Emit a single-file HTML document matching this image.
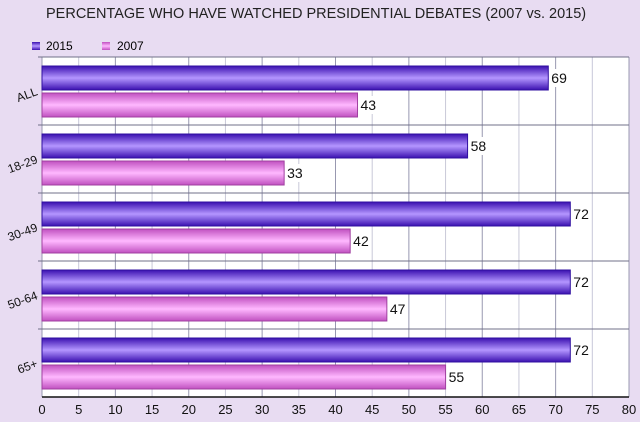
<!DOCTYPE html>
<html><head><meta charset="utf-8"><style>
body{margin:0;background:#e8dcf2;}
svg{display:block;font-family:"Liberation Sans",sans-serif;}
</style></head><body>
<svg id="c" width="640" height="422">
<defs>
<linearGradient id="g15" x1="0" y1="0" x2="0" y2="1">
<stop offset="0" stop-color="#3a10b0"/><stop offset="0.5" stop-color="#b496ff"/><stop offset="1" stop-color="#3a10b0"/></linearGradient>
<linearGradient id="g07" x1="0" y1="0" x2="0" y2="1">
<stop offset="0" stop-color="#c050c0"/><stop offset="0.5" stop-color="#ffb8ff"/><stop offset="1" stop-color="#c050c0"/></linearGradient>
</defs>
<text x="46" y="18" font-size="14.5" fill="#222">PERCENTAGE WHO HAVE WATCHED PRESIDENTIAL DEBATES (2007 vs. 2015)</text>
<g><rect x="32" y="42" width="8" height="8" fill="url(#g15)"/><text x="46" y="50" font-size="12">2015</text></g>
<g><rect x="102" y="42" width="8" height="8" fill="url(#g07)"/><text x="117" y="50" font-size="12">2007</text></g>
<rect x="42" y="57" width="587" height="340" fill="#fff"/>
<g id="grid"></g><g id="bars"></g><g id="labels"></g>
</svg>
<script>
const categories=["ALL","18-29","30-49","50-64","65+"];
const values2015=[69,58,72,72,72];
const values2007=[43,33,42,47,55];
const ticks=[0,5,10,15,20,25,30,35,40,45,50,55,60,65,70,75,80];
const NS="http://www.w3.org/2000/svg";
const x0=42,x1=629,ytop=57,ybot=397,xmax=80;
const X=v=>x0+(x1-x0)*v/xmax;
const gh=(ybot-ytop)/categories.length;
const grid=document.getElementById('grid'),bars=document.getElementById('bars'),labels=document.getElementById('labels');
function mk(tag,attrs,parent){const e=document.createElementNS(NS,tag);for(const k in attrs)e.setAttribute(k,attrs[k]);parent.appendChild(e);return e;}
ticks.forEach((t,i)=>{
 const l=mk('line',{x1:X(t),x2:X(t),y1:ytop,y2:ybot,stroke:i%2?'#c8c8d8':'#9898b0','stroke-width':1},grid);
 
 
 const tx=mk('text',{x:X(t),y:ybot+17,'font-size':13,'text-anchor':'middle',fill:'#111'},labels);
 tx.textContent=t;
 
 
});
categories.forEach((c,i)=>{
 const gy=ytop+i*gh;
 const s=mk('line',{x1:x0-4,x2:x1,y1:gy,y2:gy,stroke:'#707088'},grid);
 
 
 [[values2015[i],'url(#g15)','#3010a0',9],[values2007[i],'url(#g07)','#a040a0',36]].forEach(([v,f,st,off],j)=>{
  const r=mk('rect',{x:x0,y:gy+off,width:X(v)-x0,height:24,fill:f,stroke:st,'stroke-width':1},bars);
  
  
  const bg=mk('rect',{x:X(v)+1,y:gy+off+3,width:19,height:18,fill:'#fff'},labels);
  
  
  const t=mk('text',{x:X(v)+3,y:gy+off+17,'font-size':14,fill:'#111'},labels);
  t.textContent=v;
  
  
 });
 const cl=mk('text',{x:37,y:gy+gh/2+4,'font-size':12,'text-anchor':'end',fill:'#111',transform:`rotate(-20 37 ${gy+gh/2})`},labels);
 cl.textContent=c;
 
 
});
const ax=mk('line',{x1:x0,x2:x1,y1:ybot,y2:ybot,stroke:'#111','stroke-width':1.5},grid);


</script>
</body></html>
